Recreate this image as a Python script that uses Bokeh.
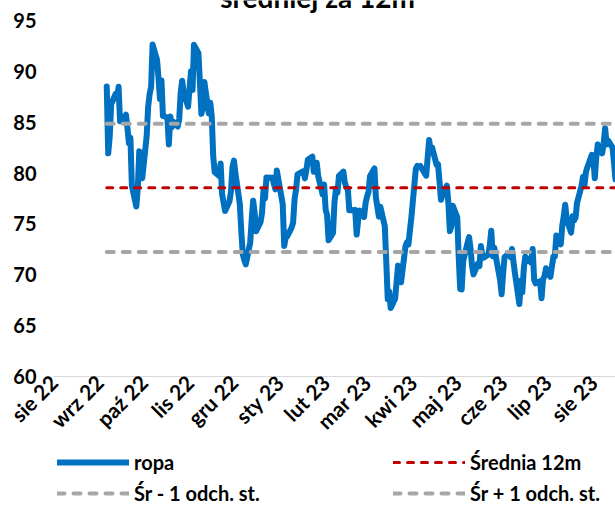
import math
import pandas as pd
from bokeh.plotting import figure
from bokeh.layouts import column
from bokeh.models import FixedTicker, Legend, LegendItem, Label, Range1d
from bokeh.embed import file_html
from bokeh.resources import INLINE

# ---- data -------------------------------------------------------------
tick_dates = ["2022-08-01", "2022-09-01", "2022-10-01", "2022-11-01", "2022-12-01",
              "2023-01-01", "2023-02-01", "2023-03-01", "2023-04-01", "2023-05-01",
              "2023-06-01", "2023-07-01", "2023-08-01"]
tick_labels = ["sie 22", "wrz 22", "paź 22", "lis 22", "gru 22", "sty 23", "lut 23",
               "mar 23", "kwi 23", "maj 23", "cze 23", "lip 23", "sie 23"]
y_ticks = [60, 65, 70, 75, 80, 85, 90, 95]

first_day = "2022-09-06"
last_day = "2023-08-16"
market_holidays = ["2022-11-24", "2022-12-26", "2023-01-02", "2023-01-16", "2023-02-20",
                   "2023-04-07", "2023-05-29", "2023-06-19", "2023-07-04"]

ropa = [
    # wrz 22
    88.5, 81.94, 83.54, 86.79, 87.78, 87.31, 88.48, 85.10, 85.11, 85.73, 84.45, 82.94,
    83.49, 78.74, 76.71, 78.50, 82.15, 81.23, 79.49,
    # paz 22
    83.63, 86.52, 87.76, 88.45, 92.64, 91.13, 89.35, 87.27, 89.11, 85.61, 85.46, 82.82,
    85.55, 84.51, 85.05, 84.58, 85.32, 87.91, 89.08, 87.90, 86.53,
    # lis 22
    88.37, 90.00, 88.17, 92.61, 91.79, 88.91, 85.83, 86.47, 88.96, 85.87, 86.92, 85.59,
    81.64, 80.08, 79.73, 80.95, 77.94, 76.28, 77.24, 78.20, 80.55,
    # gru 22
    81.22, 79.98, 76.93, 74.25, 72.01, 71.46, 71.02, 73.17, 75.39, 77.28, 76.11, 74.29,
    75.19, 76.09, 78.29, 77.49, 79.56, 79.53, 78.96, 78.40, 80.26,
    # sty 23
    76.93, 72.84, 73.67, 73.77, 74.63, 75.12, 77.41, 78.39, 79.86, 80.18, 79.48, 80.33,
    81.31, 81.62, 80.13, 80.15, 81.01, 79.68, 77.90, 78.87,
    # lut 23
    76.41, 75.88, 73.39, 74.11, 77.14, 78.47, 78.06, 79.72, 80.14, 79.06, 78.59, 78.49,
    76.34, 76.36, 73.95, 75.39, 76.32, 75.68, 77.05,
    # mar 23
    77.69, 78.16, 79.68, 80.46, 77.58, 76.66, 75.72, 76.68, 74.80, 71.33, 67.61, 68.35,
    66.74, 67.64, 69.33, 70.90, 69.96, 69.26, 72.81, 73.20, 72.97, 74.37, 75.67,
    # kwi 23
    80.42, 80.71, 80.61, 80.70, 79.74, 81.53, 83.26, 82.16, 82.52, 80.83, 80.86, 79.16,
    77.37, 77.87, 78.76, 77.07, 74.30, 74.76, 76.78,
    # maj 23
    75.66, 71.66, 68.60, 68.56, 71.34, 73.16, 73.71, 72.56, 70.87, 70.04, 71.11, 70.86,
    72.83, 71.86, 71.69, 71.99, 72.91, 74.34, 71.83, 72.67, 69.46, 68.09,
    # cze 23
    70.10, 71.74, 72.15, 71.74, 72.53, 71.29, 70.17, 67.12, 69.42, 68.27, 70.62, 71.78,
    71.19, 72.53, 69.51, 69.16, 69.37, 67.70, 69.56, 69.86, 70.64,
    # lip 23
    69.79, 71.79, 71.80, 73.86, 72.99, 74.83, 75.75, 76.89, 75.42, 74.15, 75.75, 75.35,
    75.63, 77.07, 78.74, 79.63, 78.78, 80.09, 80.58, 81.80,
    # sie 23
    81.37, 79.49, 81.55, 82.82, 81.94, 82.92, 84.40, 82.82, 83.19, 82.51, 80.99, 79.38,
]

srednia_12m = 78.55
odch_st = 6.3

title_text = "średniej za 12m"
series_labels = ["ropa", "Średnia 12m", "Śr - 1 odch. st.", "Śr + 1 odch. st."]

# ---- build ------------------------------------------------------------
dates = pd.bdate_range(first_day, last_day, freq="C", holidays=market_holidays)
n = min(len(dates), len(ropa))
xs = list(dates[:n])
ys = ropa[:n]
mean_line = [srednia_12m] * n
low_line = [srednia_12m - odch_st] * n
up_line = [srednia_12m + odch_st] * n

x_start = pd.Timestamp("2022-08-01")
x_end = pd.Timestamp(last_day)

FONT = "Lato"
W = 615
TOP_GAP = 20        # px between canvas top and the "95" level
FRAME_H = 356       # px between 95 and 60
BOTTOM = 74         # px for the rotated month labels
LEG_H = 55

y_lo, y_hi = y_ticks[0], y_ticks[-1]
px = (y_hi - y_lo) / FRAME_H
y_top = y_hi + TOP_GAP * px

STY = dict(
    ropa=dict(line_color="#0070C0", line_width=6, line_join="round", line_cap="round"),
    mean=dict(line_color="#C00000", line_width=3, line_dash="6 8", line_cap="round"),
    band=dict(line_color="#A6A6A6", line_width=4, line_dash="7 9", line_cap="round"),
)

p = figure(width=W, height=TOP_GAP + FRAME_H + BOTTOM, output_backend="svg",
           toolbar_location=None, x_axis_type="datetime",
           x_range=Range1d(x_start, x_end), y_range=Range1d(y_lo, y_top),
           min_border_left=53, min_border_right=0, min_border_top=0,
           min_border_bottom=BOTTOM)
p.outline_line_color = None
p.background_fill_color = "white"
p.border_fill_color = "white"
p.xgrid.visible = False
p.ygrid.visible = False

r_ropa = p.line(xs, ys, **STY["ropa"])
r_mean = p.line(xs, mean_line, **STY["mean"])
r_low = p.line(xs, low_line, **STY["band"])
r_up = p.line(xs, up_line, **STY["band"])

# y axis
p.yaxis.ticker = FixedTicker(ticks=y_ticks)
p.yaxis.axis_line_color = None
p.yaxis.major_tick_line_color = None
p.yaxis.minor_tick_line_color = None
p.yaxis.major_label_standoff = 11
p.yaxis.major_label_text_font = FONT
p.yaxis.major_label_text_font_style = "bold"
p.yaxis.major_label_text_font_size = "20px"
p.yaxis.major_label_text_color = "black"

# x axis
tick_ms = [pd.Timestamp(d).value // 10**6 for d in tick_dates]
p.xaxis.ticker = FixedTicker(ticks=tick_ms)
p.xaxis.major_label_overrides = {t: lab for t, lab in zip(tick_ms, tick_labels)}
p.xaxis.axis_line_color = "#D9D9D9"
p.xaxis.axis_line_width = 1
p.xaxis.major_tick_line_color = None
p.xaxis.minor_tick_line_color = None
p.xaxis.major_tick_out = 0
p.xaxis.major_tick_in = 0
p.xaxis.major_label_orientation = math.pi / 4
p.xaxis.major_label_standoff = 2
p.xaxis.major_label_text_font = FONT
p.xaxis.major_label_text_font_style = "bold"
p.xaxis.major_label_text_font_size = "21px"
p.xaxis.major_label_text_color = "black"

# title: only its lower part shows at the top edge, as in the source
x_title = (x_start.value + 0.47 * (x_end.value - x_start.value)) / 10**6
p.add_layout(Label(x=x_title, y=y_hi + (TOP_GAP + 4) * px, text=title_text,
                   text_align="center", text_baseline="alphabetic", text_font=FONT,
                   text_font_style="bold", text_font_size="28px", text_color="black"))

# legend strip (its proxy lines hold the same data, out of its view)
q = figure(width=W, height=LEG_H, output_backend="svg", toolbar_location=None,
           x_range=Range1d(0, 1), y_range=Range1d(0, 1),
           x_axis_location=None, y_axis_location=None,
           min_border_left=0, min_border_right=0, min_border_top=0, min_border_bottom=0)
q.outline_line_color = None
q.background_fill_color = "white"
q.border_fill_color = "white"
q.xgrid.visible = False
q.ygrid.visible = False
l_ropa = q.line(xs, ys, **STY["ropa"])
l_mean = q.line(xs, mean_line, **STY["mean"])
l_low = q.line(xs, low_line, **STY["band"])
l_up = q.line(xs, up_line, **STY["band"])

legend = Legend(items=[LegendItem(label=series_labels[0], renderers=[l_ropa]),
                       LegendItem(label=series_labels[1], renderers=[l_mean]),
                       LegendItem(label=series_labels[2], renderers=[l_low]),
                       LegendItem(label=series_labels[3], renderers=[l_up])],
                orientation="horizontal", ncols=2, location=(4, 0),
                glyph_width=72, glyph_height=24, label_height=24, label_width=252,
                label_standoff=5, spacing=7, padding=0, margin=0,
                border_line_color=None, background_fill_alpha=0,
                label_text_font=FONT, label_text_font_style="bold",
                label_text_font_size="20px", label_text_color="black")
q.add_layout(legend, "center")

open("out.html", "w").write(file_html(column(p, q, spacing=0), INLINE))
